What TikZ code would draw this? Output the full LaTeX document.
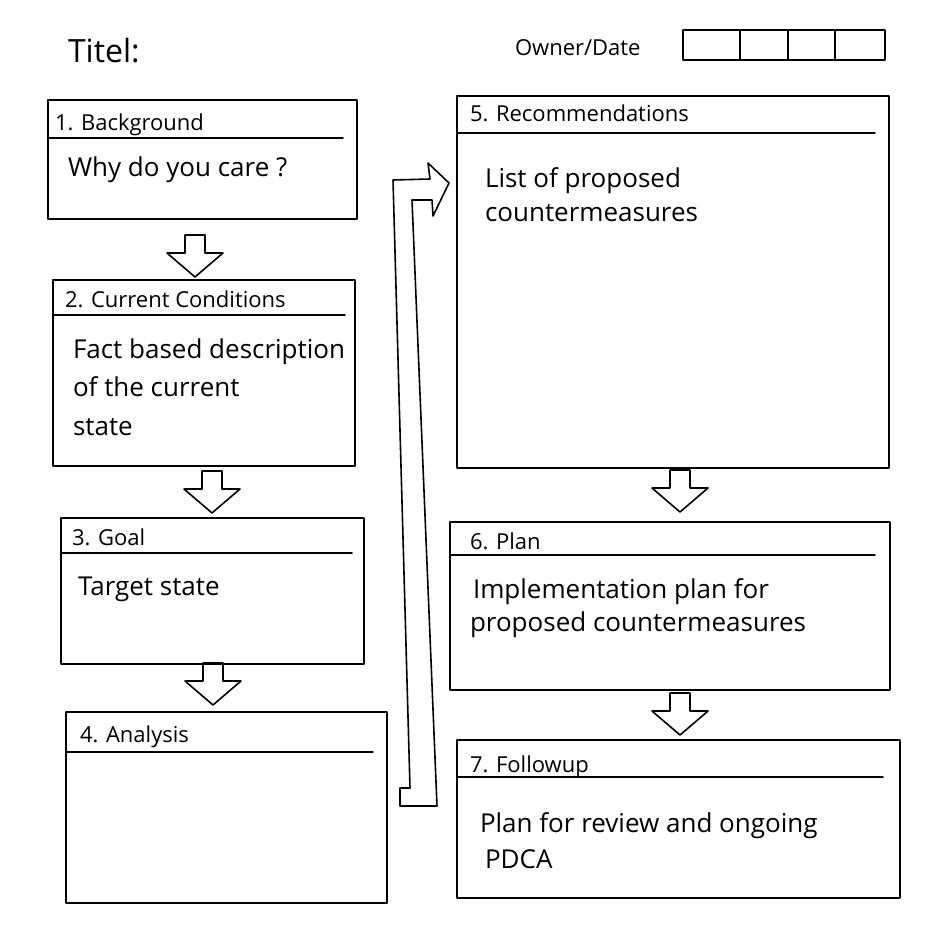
\documentclass[tikz,border=0pt]{standalone}
\usepackage{fontspec}
\setmainfont{Open Sans}
\tikzset{
  sketch/.style={line width=1.6pt, line join=round, line cap=round},
  box/.style={sketch, draw, rectangle, inner sep=0pt, outer sep=0pt},
  lbl/.style={anchor=base west, inner sep=0pt, outer sep=0pt},
  headtxt/.style={lbl, font=\fontsize{22}{26}\selectfont},
  bodytxt/.style={lbl, font=\fontsize{26}{30}\selectfont},
  downarrow/.pic={\draw[sketch] (-10,-42) -- (-10,-24) -- (-28,-24) -- (0,0) -- (28,-24) -- (10,-24) -- (10,-42) -- cycle;}
}
\begin{document}
\begin{tikzpicture}[x=1pt,y=-1pt]
\useasboundingbox[fill=white] (0,0) rectangle (952,944);

% header
\node[lbl, font=\fontsize{32}{36}\selectfont] (titel) at (68,63) {Titel:};
\node[headtxt] (owner) at (515,56) {Owner/Date};
\node[box, minimum width=202pt, minimum height=30pt] (cells) at (784,45) {};
\draw[sketch] ([xshift=57pt]cells.north west) -- ([xshift=57pt]cells.south west);
\draw[sketch] ([xshift=105pt]cells.north west) -- ([xshift=105pt]cells.south west);
\draw[sketch] ([xshift=152pt]cells.north west) -- ([xshift=152pt]cells.south west);

% boxes
\node[box, minimum width=309pt, minimum height=119pt] (b1) at (202.5,159.5) {};
\node[box, minimum width=302pt, minimum height=186pt] (b2) at (204,373) {};
\node[box, minimum width=303pt, minimum height=146pt] (b3) at (212.5,591) {};
\node[box, minimum width=321pt, minimum height=191pt] (b4) at (226.5,807.5) {};
\node[box, minimum width=432pt, minimum height=372pt] (b5) at (673,282) {};
\node[box, minimum width=440pt, minimum height=168pt] (b6) at (670,606) {};
\node[box, minimum width=443pt, minimum height=158pt] (b7) at (678.5,819) {};

% header lines
\draw[sketch] ([yshift=-38pt]b1.north west) -- ([yshift=-38pt,xshift=-14pt]b1.north east);
\draw[sketch] ([yshift=-35pt]b2.north west) -- ([yshift=-35pt,xshift=-10pt]b2.north east);
\draw[sketch] ([yshift=-35pt]b3.north west) -- ([yshift=-35pt,xshift=-12pt]b3.north east);
\draw[sketch] ([yshift=-40pt]b4.north west) -- ([yshift=-40pt,xshift=-14pt]b4.north east);
\draw[sketch] ([yshift=-37pt]b5.north west) -- ([yshift=-37pt,xshift=-14pt]b5.north east);
\draw[sketch] ([yshift=-33pt]b6.north west) -- ([yshift=-33pt,xshift=-15pt]b6.north east);
\draw[sketch] ([yshift=-37pt]b7.north west) -- ([yshift=-37pt,xshift=-17pt]b7.north east);

% texts
\node[headtxt] (h1) at (55,131) {1. Background};
\node[bodytxt] (t1) at (68,177) {Why do you care ?};
\node[headtxt] (h2) at (65,307) {2. Current Conditions};
\node[bodytxt] (t2a) at (73,358) {Fact based description};
\node[bodytxt] (t2b) at (73,396) {of the current};
\node[bodytxt] (t2c) at (73,435) {state};
\node[headtxt] (h3) at (72,545) {3. Goal};
\node[bodytxt] (t3) at (78,595) {Target state};
\node[headtxt] (h4) at (80,742) {4. Analysis};
\node[headtxt] (h5) at (470,122) {5. Recommendations};
\node[bodytxt] (t5a) at (485,187) {List of proposed};
\node[bodytxt] (t5b) at (485,221) {countermeasures};
\node[headtxt] (h6) at (470,549) {6. Plan};
\node[bodytxt] (t6a) at (473,598) {Implementation plan for};
\node[bodytxt] (t6b) at (470,631) {proposed countermeasures};
\node[headtxt] (h7) at (470,772) {7. Followup};
\node[bodytxt] (t7a) at (480,832) {Plan for review and ongoing};
\node[bodytxt] (t7b) at (485,868) {PDCA};

% small block arrows
\pic at (195,277) {downarrow};
\pic at (212,513) {downarrow};
\pic at (213,705) {downarrow};
\pic at (680,512) {downarrow};
\pic at (680,735) {downarrow};

% big return arrow from 4 to 5
\draw[sketch] (393,180) -- (410,788) -- (400,788) -- (400,806) -- (437,806) -- (412,200)
  -- (432,200) -- (433,216) -- (449,183) -- (428,163) -- (430,179) -- cycle;
\end{tikzpicture}
\end{document}
